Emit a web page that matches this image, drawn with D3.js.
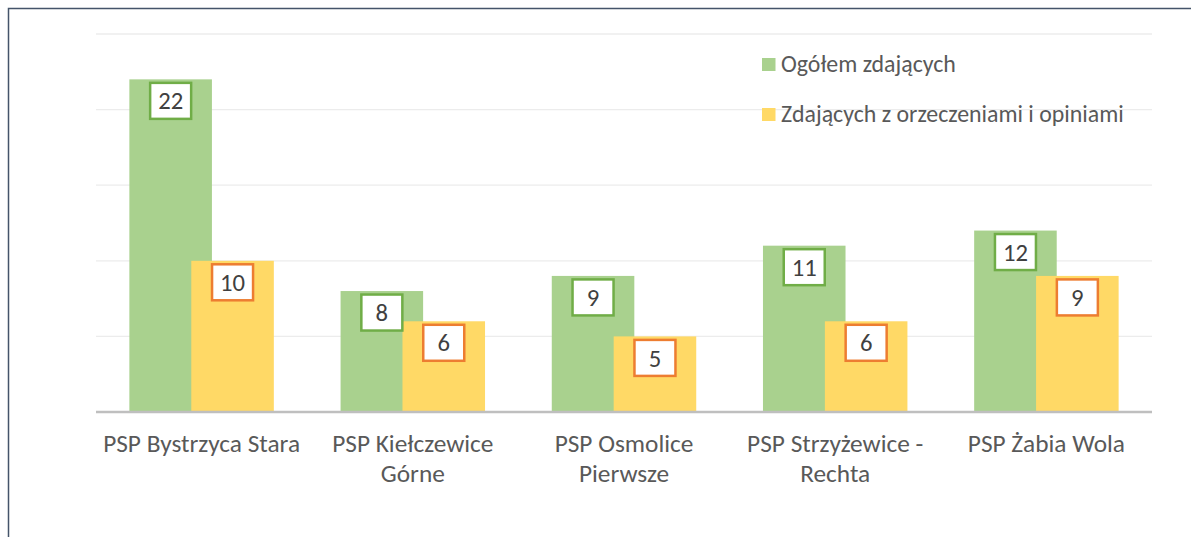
<!DOCTYPE html>
<html>
<head>
<meta charset="utf-8">
<script src="https://cdn.jsdelivr.net/npm/d3@7"></script>
<style>
  html, body { margin: 0; padding: 0; background: #fff; overflow: hidden; }
  svg { display: block; }
</style>
</head>
<body>
<svg id="chart" width="1191" height="537"></svg>
<script>
const categories = ["PSP Bystrzyca Stara", "PSP Kiełczewice Górne", "PSP Osmolice Pierwsze", "PSP Strzyżewice - Rechta", "PSP Żabia Wola"];
const tickLabels = [["PSP Bystrzyca Stara"], ["PSP Kiełczewice", "Górne"], ["PSP Osmolice", "Pierwsze"], ["PSP Strzyżewice -", "Rechta"], ["PSP Żabia Wola"]];
const seriesNames = ["Ogółem zdających", "Zdających z orzeczeniami i opiniami"];
const ogolem = [22, 8, 9, 11, 12];
const orzeczenia = [10, 6, 5, 6, 9];
const yTicks = [0, 5, 10, 15, 20, 25];

const FONT = "Carlito, Calibri, Lato, 'Noto Sans', sans-serif";
const svg = d3.select("#chart");

// measure helper to fit font sizes to the reference text widths
function fitSize(text, targetWidth) {
  const t = svg.append("text").attr("font-family", FONT).attr("font-size", 100).text(text);
  const w = t.node().getComputedTextLength();
  t.remove();
  return 100 * targetWidth / w;
}
const axisFont = fitSize("PSP Bystrzyca Stara", 197);
const legendFont = fitSize("Ogółem zdających", 175);
const numFont = fitSize("22", 25);

// outer chart border (extends beyond the visible area on the right/bottom)
svg.append("rect")
  .attr("x", 8.5).attr("y", 8.5).attr("width", 1300).attr("height", 700)
  .attr("fill", "none").attr("stroke", "#44546a").attr("stroke-width", 1.5);

const x0 = 96, x1 = 1152, yTop = 34, yBase = 412;
const x = d3.scaleBand().domain(categories).range([x0, x1]).paddingInner(0).paddingOuter(0);
const y = d3.scaleLinear().domain([0, 25]).range([yBase, yTop]);

// gridlines
svg.append("g").selectAll("line").data(yTicks.filter(d => d > 0)).join("line")
  .attr("x1", x0).attr("x2", x1)
  .attr("y1", d => y(d)).attr("y2", d => y(d))
  .attr("stroke", "#ececec").attr("stroke-width", 1.3);

// bar geometry: group = 2 bars overlapping by 25%
const groupW = x.bandwidth() * 0.684;
const barW = groupW / 1.75;
const offsets = [-groupW / 2, -groupW / 2 + 0.75 * barW];
const colors = ["#a9d18e", "#ffd966"];
const borders = ["#70ad47", "#ed7d31"];
const series = [ogolem, orzeczenia];

series.forEach((vals, si) => {
  const g = svg.append("g");
  g.selectAll("rect").data(vals).join("rect")
    .attr("x", (d, i) => x(categories[i]) + x.bandwidth() / 2 + offsets[si])
    .attr("width", barW)
    .attr("y", d => y(d))
    .attr("height", d => y(0) - y(d))
    .attr("fill", colors[si]);
});

// data labels (after all bars so they sit on top)
series.forEach((vals, si) => {
  const g = svg.append("g");
  const lbl = g.selectAll("g").data(vals).join("g")
    .attr("transform", (d, i) => {
      const cx = x(categories[i]) + x.bandwidth() / 2 + offsets[si] + barW / 2;
      return `translate(${cx},${y(d) + 3.5})`;
    });
  lbl.append("rect")
    .attr("x", -20.5).attr("y", 0).attr("width", 41).attr("height", 36)
    .attr("fill", "#fff").attr("stroke", borders[si]).attr("stroke-width", 2.5);
  lbl.append("text")
    .attr("x", 0).attr("y", 18).attr("dy", "0.35em")
    .attr("text-anchor", "middle")
    .attr("font-family", FONT).attr("font-size", numFont)
    .attr("fill", "#404040")
    .text(d => d);
});

// baseline axis
svg.append("line")
  .attr("x1", x0).attr("x2", x1).attr("y1", y(0)).attr("y2", y(0))
  .attr("stroke", "#bfbfbf").attr("stroke-width", 2.4);

// category labels
const cl = svg.append("g").selectAll("text").data(categories).join("text")
  .attr("text-anchor", "middle")
  .attr("font-family", FONT).attr("font-size", axisFont)
  .attr("fill", "#595959");
cl.each(function (d, i) {
  const t = d3.select(this);
  tickLabels[i].forEach((line, li) => {
    t.append("tspan")
      .attr("x", x(d) + x.bandwidth() / 2)
      .attr("y", 452 + li * 30)
      .text(line);
  });
});

// legend
const legend = svg.append("g");
seriesNames.forEach((name, i) => {
  const ly = 58 + i * 50;
  legend.append("rect").attr("x", 762).attr("y", ly).attr("width", 13.5).attr("height", 13)
    .attr("fill", colors[i]);
  legend.append("text").attr("x", 781).attr("y", ly + 13.5)
    .attr("font-family", FONT).attr("font-size", legendFont)
    .attr("fill", "#595959").text(name);
});
</script>
</body>
</html>
